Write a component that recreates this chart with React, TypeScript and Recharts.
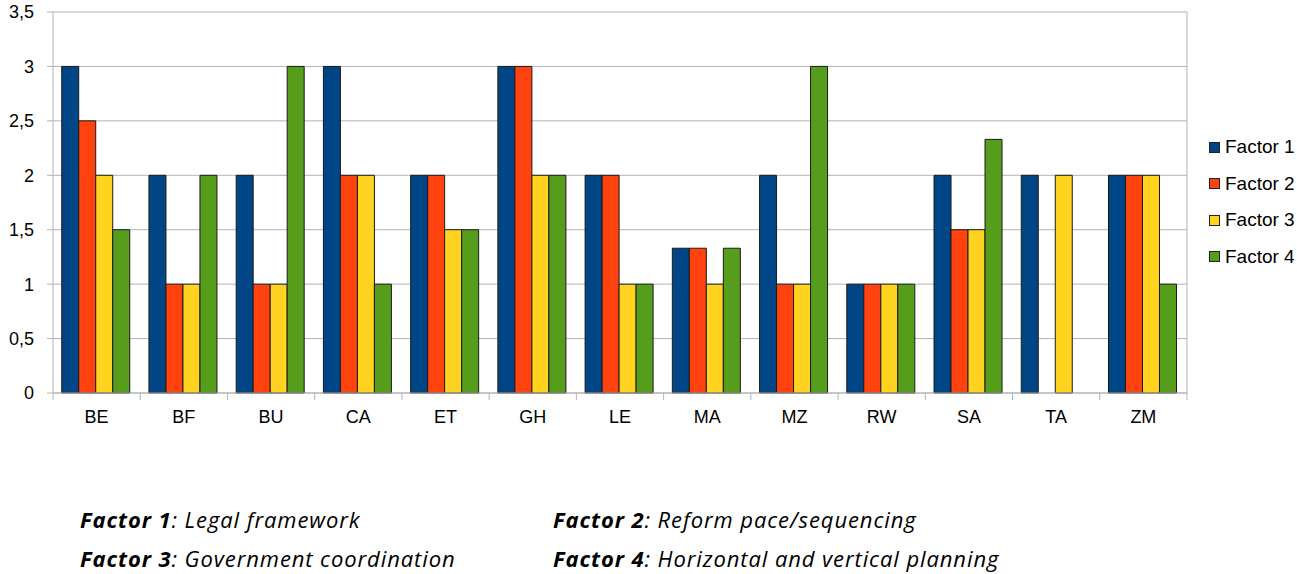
import React from "react";
import { BarChart, Bar, XAxis, YAxis, CartesianGrid } from "recharts";

const countries = ["BE", "BF", "BU", "CA", "ET", "GH", "LE", "MA", "MZ", "RW", "SA", "TA", "ZM"];
const factor1 = [3, 2, 2, 3, 2, 3, 2, 1.33, 2, 1, 2, 2, 2];
const factor2 = [2.5, 1, 1, 2, 2, 3, 2, 1.33, 1, 1, 1.5, null, 2];
const factor3 = [2, 1, 1, 2, 1.5, 2, 1, 1, 1, 1, 1.5, 2, 2];
const factor4 = [1.5, 2, 3, 1, 1.5, 2, 1, 1.33, 3, 1, 2.33, null, 1];
const yTicks = [0, 0.5, 1, 1.5, 2, 2.5, 3, 3.5];

const seriesNames = ["Factor 1", "Factor 2", "Factor 3", "Factor 4"];
const seriesColors = ["#004586", "#ff420e", "#ffd320", "#579d1c"];

const notes = [
  { key: "Factor 1", text: "Legal framework" },
  { key: "Factor 2", text: "Reform pace/sequencing" },
  { key: "Factor 3", text: "Government coordination" },
  { key: "Factor 4", text: "Horizontal and vertical planning" },
];

const data = countries.map((c, i) => ({
  name: c,
  f1: factor1[i],
  f2: factor2[i],
  f3: factor3[i],
  f4: factor4[i],
}));

const axisFont = "'Liberation Sans', Arial, sans-serif";
const gridColor = "#b3b3b3";

const CountryTick = (props: any) => {
  const { x, y, payload, index } = props;
  const half = payload && payload.offset ? payload.offset : 43.6;
  return (
    <g>
      <line x1={x - half} y1={y} x2={x - half} y2={y + 7} stroke={gridColor} />
      {index === countries.length - 1 && (
        <line x1={x + half} y1={y} x2={x + half} y2={y + 7} stroke={gridColor} />
      )}
      <text
        x={x}
        y={y + 25}
        textAnchor="middle"
        dominantBaseline="middle"
        fontFamily={axisFont}
        fontSize={18}
        fill="#000"
      >
        {payload.value}
      </text>
    </g>
  );
};

export default function App() {
  return (
    <div style={{ position: "absolute", left: 0, top: 0, width: 1297, height: 574, background: "#fff" }}>
      <BarChart
        width={1297}
        height={440}
        data={data}
        margin={{ top: 12, right: 110, left: 0, bottom: 17 }}
        barGap={0}
        barCategoryGap="10%"
      >
        <CartesianGrid
          stroke={gridColor}
          vertical={true}
          verticalCoordinatesGenerator={({ offset }: any) => [offset.left + offset.width]}
        />
        <XAxis
          dataKey="name"
          height={30}
          axisLine={{ stroke: gridColor }}
          tickLine={false}
          tickSize={0}
          tickMargin={0}
          interval={0}
          tick={<CountryTick />}
        />
        <YAxis
          width={53}
          domain={[0, 3.5]}
          ticks={yTicks}
          interval={0}
          axisLine={{ stroke: gridColor }}
          tickLine={{ stroke: gridColor }}
          tickSize={6}
          tickMargin={13}
          tickFormatter={(v: number) => String(v).replace(".", ",")}
          tick={{ fontFamily: axisFont, fontSize: 18, fill: "#000" }}
        />
        {["f1", "f2", "f3", "f4"].map((k, i) => (
          <Bar
            key={k}
            dataKey={k}
            name={seriesNames[i]}
            fill={seriesColors[i]}
            stroke="#1a1a1a"
            strokeWidth={1}
            isAnimationActive={false}
          />
        ))}
      </BarChart>
      <div
        style={{
          position: "absolute",
          left: 1209,
          top: 129,
          fontFamily: axisFont,
          fontSize: 19,
          color: "#000",
        }}
      >
        {seriesNames.map((n, i) => (
          <div key={n} style={{ display: "flex", alignItems: "center", height: 36.5 }}>
            <div
              style={{
                width: 9,
                height: 9,
                background: seriesColors[i],
                border: "1px solid #222",
                marginRight: 5,
              }}
            />
            <span>{n}</span>
          </div>
        ))}
      </div>
      {notes.map((n, i) => (
        <div
          key={n.key}
          style={{
            position: "absolute",
            left: i % 2 === 0 ? 80 : 553,
            top: i < 2 ? 509 : 548,
            fontFamily: "'Open Sans', sans-serif",
            fontStyle: "italic",
            fontSize: 22,
            letterSpacing: 0.9,
            lineHeight: "21px",
            color: "#000",
            whiteSpace: "nowrap",
          }}
        >
          <b>{n.key}</b>: {n.text}
        </div>
      ))}
    </div>
  );
}
